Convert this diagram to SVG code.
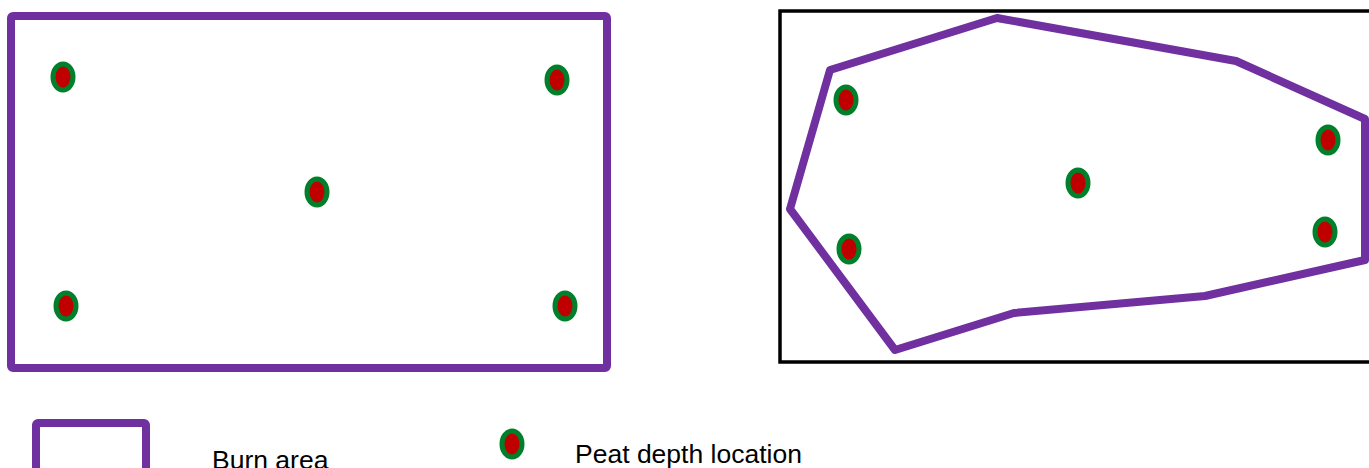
<svg xmlns="http://www.w3.org/2000/svg" width="1369" height="468" viewBox="0 0 1369 468">
<defs>
<style>
.burn{fill:none;stroke:#7030A0;stroke-width:8;stroke-linejoin:round}
.dot{fill:#C00000;stroke:#00802B;stroke-width:5}
.lbl{font-family:"Liberation Sans",Arial,sans-serif;font-size:26.5px;fill:#000}
</style>
<ellipse id="d" class="dot" cx="0" cy="0" rx="10" ry="13"/>
</defs>
<rect width="1369" height="468" fill="#fff"/>
<g id="left-area">
<rect class="burn" x="11" y="16" width="596" height="352" rx="2"/>
<use href="#d" x="63" y="77"/>
<use href="#d" x="557" y="80"/>
<use href="#d" x="317" y="192"/>
<use href="#d" x="66" y="306"/>
<use href="#d" x="565" y="306"/>
</g>
<g id="right-area">
<rect x="780" y="11" width="600" height="351" fill="none" stroke="#000" stroke-width="3.5"/>
<polygon class="burn" points="830,70 997,18 1236,61 1365,119 1365,260 1205,296 1014,313 895,350 790,209"/>
<use href="#d" x="846" y="100"/>
<use href="#d" x="849" y="249"/>
<use href="#d" x="1078" y="183"/>
<use href="#d" x="1328" y="140"/>
<use href="#d" x="1325" y="232"/>
</g>
<g id="legend-burn">
<rect class="burn" x="36" y="423" width="110" height="50" rx="2"/>
<text class="lbl" x="212" y="469">Burn area</text>
</g>
<g id="legend-peat">
<use href="#d" x="512" y="444"/>
<text class="lbl" x="575" y="463">Peat depth location</text>
</g>
<g id="connectors"/>
</svg>
